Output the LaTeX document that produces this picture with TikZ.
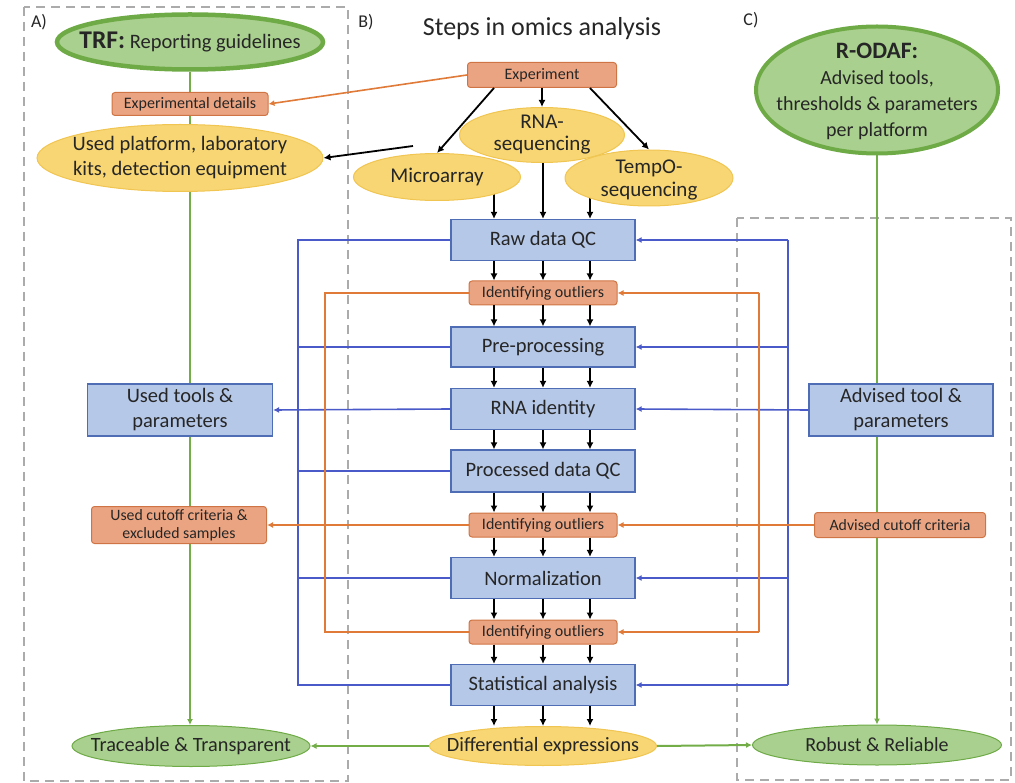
\documentclass[tikz,border=0pt]{standalone}
\usepackage{fontspec}
\setmainfont{Carlito}
\usetikzlibrary{arrows.meta,shapes.geometric,backgrounds,calc}
\definecolor{bluefill}{HTML}{B6C8E8}
\definecolor{blueedge}{HTML}{4F6DB5}
\definecolor{blueline}{HTML}{4A5AC8}
\definecolor{orfill}{HTML}{EBA482}
\definecolor{oredge}{HTML}{CF7444}
\definecolor{orline}{HTML}{E07A38}
\definecolor{yelfill}{HTML}{F7D673}
\definecolor{yeledge}{HTML}{F0C552}
\definecolor{grfill}{HTML}{A9D08E}
\definecolor{gredge}{HTML}{6EAA46}
\definecolor{grline}{HTML}{72AD48}
\definecolor{dashc}{HTML}{ABABAB}
\definecolor{txtc}{HTML}{262626}
\newcommand{\myfs}[2]{\fontsize{#1}{#2}\selectfont}
\begin{document}
\begin{tikzpicture}[x=1pt,y=-1pt,
 bbox/.style={rectangle, draw=blueedge, fill=bluefill, line width=1.2pt, minimum width=184pt, minimum height=41pt, inner sep=0pt, font=\myfs{20.5}{25}, text=txtc, align=center},
 obox/.style={rectangle, rounded corners=3pt, draw=oredge, fill=orfill, line width=1pt, minimum width=148pt, minimum height=24pt, inner sep=0pt, font=\myfs{16}{18}, text=txtc, align=center},
 yell/.style={ellipse, draw=yeledge, fill=yelfill, line width=1pt, inner sep=0pt},
 gell/.style={ellipse, draw=gredge, fill=grfill, line width=1pt, inner sep=0pt},
 etxt/.style={inner sep=0pt, text=txtc, align=center, font=\myfs{21}{22}},
 blk/.style={-{Latex[length=7pt,width=7pt]}, line width=1.8pt, draw=black},
 bl/.style={draw=blueline, line width=1.6pt},
 bla/.style={bl, -{Latex[length=6pt,width=6pt]}},
 orl/.style={draw=orline, line width=1.6pt},
 ora/.style={orl, -{Latex[length=6pt,width=6pt]}},
 grl/.style={draw=grline, line width=2pt},
 gra/.style={grl, -{Latex[length=6pt,width=6pt]}},
 dbox/.style={draw=dashc, line width=1.5pt, dash pattern=on 9pt off 6pt},
 lab/.style={font=\myfs{18}{20}, text=txtc, inner sep=0pt}
]
\useasboundingbox (0,0) rectangle (1015,783);

% labels
\node[lab] (la) at (39,22) {A)};
\node[lab] (lb) at (366,22) {B)};
\node[lab] (lc) at (751,20) {C)};
\node[lab, font=\myfs{26}{28}] (title) at (542,29) {Steps in omics analysis};

% left column
\node[gell, line width=4.5pt, minimum width=266pt, minimum height=55pt] (trf) at (190,42) {};
\node[etxt] (trf-t) at (trf) {{\myfs{25.5}{26}\bfseries TRF:} {\myfs{20.5}{22}Reporting guidelines}};
\node[obox, minimum width=156pt, minimum height=23pt] (expdet) at (190,104) {Experimental details};
\node[yell, minimum width=286pt, minimum height=67pt] (usedplat) at (180,158) {};
\node[etxt, font=\myfs{20.5}{25}] (usedplat-t) at (usedplat) {Used platform, laboratory\\kits, detection equipment};
\node[bbox, minimum width=185pt, minimum height=52pt, font=\myfs{20.5}{25}] (usedtools) at (180,410)
  {Used tools \&\\parameters};
\node[obox, minimum width=175pt, minimum height=37pt, font=\myfs{15.8}{18}] (usedcut) at (179,525)
  {Used cutoff criteria \&\\excluded samples};
\node[gell, minimum width=238pt, minimum height=41pt] (trace) at (191,746) {};
\node[etxt, font=\myfs{20.3}{22}] (trace-t) at (trace) {Traceable \& Transparent};

% middle column
\node[obox, minimum width=149pt, minimum height=25pt] (exp) at (542,75) {Experiment};
\node[yell, minimum width=165pt, minimum height=55pt] (rnaseq) at (542,135) {};
\node[etxt] (rnaseq-t) at (rnaseq) {RNA-\\sequencing};
\node[yell, minimum width=167pt, minimum height=47pt] (micro) at (437,177) {};
\node[etxt] (micro-t) at (micro) {Microarray};
\node[yell, minimum width=168pt, minimum height=56pt] (tempo) at (649,178) {};
\node[etxt, font=\myfs{21}{23}] (tempo-t) at ($(tempo)+(0,2)$) {TempO-\\sequencing};
\node[bbox] (raw) at (543,240) {Raw data QC};
\node[obox] (out1) at (543,293) {Identifying outliers};
\node[bbox, minimum height=40pt] (pre) at (543,347) {Pre-processing};
\node[bbox] (rnaid) at (543,409) {RNA identity};
\node[bbox, minimum height=42pt] (proc) at (543,471) {Processed data QC};
\node[obox] (out2) at (543,525) {Identifying outliers};
\node[bbox] (norm) at (543,578) {Normalization};
\node[obox] (out3) at (543,632) {Identifying outliers};
\node[bbox] (stat) at (543,685) {Statistical analysis};
\node[yell, minimum width=227pt, minimum height=39pt] (diff) at (543,746) {};
\node[etxt, font=\myfs{20.3}{22}] (diff-t) at (diff) {Differential expressions};

% right column
\node[gell, line width=4pt, minimum width=242pt, minimum height=127pt] (rodaf) at (877,90) {};
\node[etxt, font=\myfs{20}{26}] (rodaf-t) at ($(rodaf)+(0,1)$)
  {{\myfs{23.5}{26}\bfseries R-ODAF:}\\Advised tools,\\thresholds \& parameters\\per platform};
\node[bbox, minimum width=184pt, minimum height=52pt, font=\myfs{20.5}{25}] (advtools) at (901,410)
  {Advised tool \&\\parameters};
\node[obox, minimum width=171pt, minimum height=25pt, font=\myfs{15.8}{18}] (advcut) at (900,525) {Advised cutoff criteria};
\node[gell, minimum width=249pt, minimum height=40pt] (robust) at (877,745) {};
\node[etxt, font=\myfs{20}{22}] (robust-t) at (robust) {Robust \& Reliable};

% helper coordinates
\coordinate (c1) at (494,0);
\coordinate (c2) at (543,0);
\coordinate (c3) at (590,0);
\coordinate (bL) at (298,0);
\coordinate (bR) at (788,0);
\coordinate (oL) at (325,0);
\coordinate (oR) at (759,0);
\coordinate (mstart) at (413,146);

\begin{pgfonlayer}{background}
 \draw[dbox] (24,7) rectangle (348,781);
 \draw[dbox] (737,218) rectangle (1011,780);
 \draw[gra] (trf.south) -- (trf.south |- trace.north);
 \draw[gra] (rodaf.south) -- (rodaf.south |- robust.north);
 \draw[blk] (micro.center -| c1) -- (raw.north -| c1);
 \draw[blk] (rnaseq.center -| c2) -- (raw.north -| c2);
 \draw[blk] (tempo.center -| c3) -- (raw.north -| c3);
\end{pgfonlayer}

% experiment arrows
\draw[blk] (exp.south -| c1) -- (micro.north);
\draw[blk] (exp.south) -- (rnaseq.north);
\draw[blk] (exp.south -| c3) -- (tempo.north);
\draw[blk] (mstart) -- (usedplat.east);
\draw[ora] (exp.west) -- (expdet.east);

% pipeline arrows
\foreach \a/\b in {raw/out1,out1/pre,pre/rnaid,rnaid/proc,proc/out2,out2/norm,norm/out3,out3/stat,stat/diff}
  \foreach \c in {c1,c2,c3}
    \draw[blk] (\a.south -| \c) -- (\b.north -| \c);

% blue left
\draw[bl] (raw.west) -- (raw.west -| bL) -- (stat.west -| bL) -- (stat.west);
\foreach \n in {pre,proc,norm}
  \draw[bl] (\n.west) -- (\n.west -| bL);
\draw[bla] (rnaid.west) -- (usedtools.east);

% blue right
\draw[bl] (raw.east -| bR) -- (stat.east -| bR);
\foreach \n in {raw,pre,norm,stat}
  \draw[bla] (\n.east -| bR) -- (\n.east);
\draw[bla] (advtools.west) -- (rnaid.east);

% orange left
\draw[orl] (out1.west) -- (out1.west -| oL) -- (out3.west -| oL) -- (out3.west);
\draw[ora] (out2.west) -- (usedcut.east);

% orange right
\draw[orl] (out1.east -| oR) -- (out3.east -| oR);
\foreach \n in {out1,out3}
  \draw[ora] (\n.east -| oR) -- (\n.east);
\draw[ora] (advcut.west) -- (out2.east);

% bottom green
\draw[gra] (diff.west) -- (trace.east);
\draw[gra] (diff.east) -- (robust.west);
\end{tikzpicture}
\end{document}
